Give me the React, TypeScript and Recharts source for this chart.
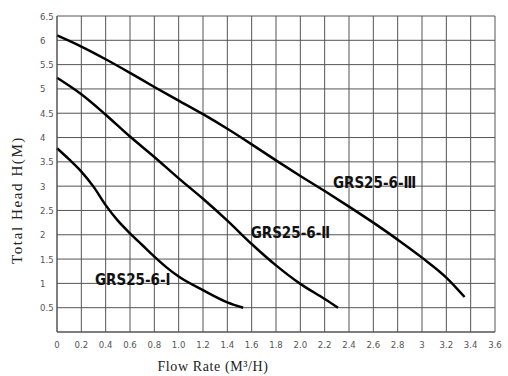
import React from 'react';
import { LineChart, Line, XAxis, YAxis, CartesianGrid, ReferenceDot } from 'recharts';

const flowI = [0, 0.1, 0.2, 0.3, 0.4, 0.5, 0.6, 0.7, 0.8, 0.9, 1.0, 1.2, 1.4, 1.53];
const headI = [3.78, 3.55, 3.3, 2.99, 2.61, 2.29, 2.03, 1.79, 1.55, 1.33, 1.14, 0.86, 0.61, 0.5];

const flowII = [0, 0.2, 0.4, 0.6, 0.8, 1.0, 1.2, 1.4, 1.6, 1.8, 2.0, 2.2, 2.31];
const headII = [5.23, 4.89, 4.47, 4.02, 3.6, 3.16, 2.74, 2.29, 1.81, 1.37, 0.99, 0.68, 0.5];

const flowIII = [0, 0.2, 0.4, 0.6, 0.8, 1.0, 1.2, 1.4, 1.6, 1.8, 2.0, 2.2, 2.4, 2.6, 2.8, 3.0, 3.2, 3.35];
const headIII = [6.1, 5.87, 5.61, 5.33, 5.04, 4.76, 4.48, 4.18, 3.86, 3.53, 3.21, 2.9, 2.58, 2.25, 1.9, 1.53, 1.12, 0.72];

const xTicks = [0, 0.2, 0.4, 0.6, 0.8, 1.0, 1.2, 1.4, 1.6, 1.8, 2.0, 2.2, 2.4, 2.6, 2.8, 3.0, 3.2, 3.4, 3.6];
const xTickLabels = ['0', '0.2', '0.4', '0.6', '0.8', '1.0', '1.2', '1.4', '1.6', '1.8', '2.0', '2.2', '2.4', '2.6', '2.8', '3', '3.2', '3.4', '3.6'];
const yTicks = [0, 0.5, 1, 1.5, 2, 2.5, 3, 3.5, 4, 4.5, 5, 5.5, 6, 6.5];
const yTickLabels = ['', '0.5', '1', '1.5', '2', '2.5', '3', '3.5', '4', '4.5', '5', '5.5', '6', '6.5'];

const seriesNames = ['GRS25-6-Ⅰ', 'GRS25-6-Ⅱ', 'GRS25-6-Ⅲ'];
const labelAnchorsQ = [0.312, 1.592, 2.268];
const labelAnchorsH = [1.09, 2.05, 3.08];

const toData = (xs: number[], ys: number[]) => xs.map((q, i) => ({ q, h: ys[i] }));
const dataI = toData(flowI, headI);
const dataII = toData(flowII, headII);
const dataIII = toData(flowIII, headIII);
const allSeries = [dataI, dataII, dataIII];

const tickFont = '"DejaVu Sans Condensed", "DejaVu Sans", sans-serif';
const titleFont = '"Liberation Serif", "DejaVu Serif", serif';

const XTick = (props: any) => {
  const { x, y, payload, index } = props;
  return (
    <text x={x} y={y} dy={8} textAnchor="middle" fontFamily={tickFont} fontSize={9.5} fill="#555">
      {xTickLabels[index] ?? String(payload.value)}
    </text>
  );
};

const YTick = (props: any) => {
  const { y, payload } = props;
  const i = yTicks.indexOf(payload.value);
  const label = i >= 0 ? yTickLabels[i] : String(payload.value);
  if (!label) return null;
  return (
    <text x={40} y={y} dy={3.5} textAnchor="start" fontFamily={tickFont} fontSize={9.5} fill="#555">
      {label}
    </text>
  );
};

const CurveLabel = (text: string) => (props: any) => {
  const { cx, cy } = props;
  return (
    <text x={cx} y={cy} dy={5.5} textAnchor="start" fontFamily='"DejaVu Sans Condensed", "DejaVu Sans", sans-serif' fontWeight="bold" fontSize={15} fill="#111">
      {text}
    </text>
  );
};

export default function App() {
  return (
    <div style={{ position: 'absolute', left: 0, top: 0, width: 508, height: 376, background: '#fff' }}>
      <LineChart width={508} height={376} margin={{ top: 16, right: 13, left: 7, bottom: 14 }}>
        <CartesianGrid stroke="#555" strokeWidth={1} />
        <XAxis
          dataKey="q"
          type="number"
          domain={[0, 3.6]}
          ticks={xTicks}
          tick={<XTick />}
          tickLine={false}
          axisLine={{ stroke: '#555' }}
          height={30}
          allowDuplicatedCategory={false}
          interval={0}
        />
        <YAxis
          type="number"
          domain={[0, 6.5]}
          ticks={yTicks}
          tick={<YTick />}
          tickLine={false}
          axisLine={{ stroke: '#555' }}
          width={50}
          interval={0}
        />
        {allSeries.map((d, i) => (
          <Line
            key={seriesNames[i]}
            data={d}
            dataKey="h"
            type="monotone"
            stroke="#000"
            strokeWidth={2.5}
            dot={false}
            activeDot={false}
            isAnimationActive={false}
          />
        ))}
        {seriesNames.map((n, i) => (
          <ReferenceDot key={n} x={labelAnchorsQ[i]} y={labelAnchorsH[i]} r={1} shape={CurveLabel(n)} />
        ))}
        <text x={213} y={371} textAnchor="middle" fontFamily={titleFont} fontSize={14} letterSpacing={0.6} fill="#222">
          Flow Rate (M³/H)
        </text>
        <text x={22} y={200} transform="rotate(-90 22 200)" textAnchor="middle" fontFamily={titleFont} fontSize={15} letterSpacing={1.6} fill="#222">
          Total  Head  H(M)
        </text>
      </LineChart>
    </div>
  );
}
